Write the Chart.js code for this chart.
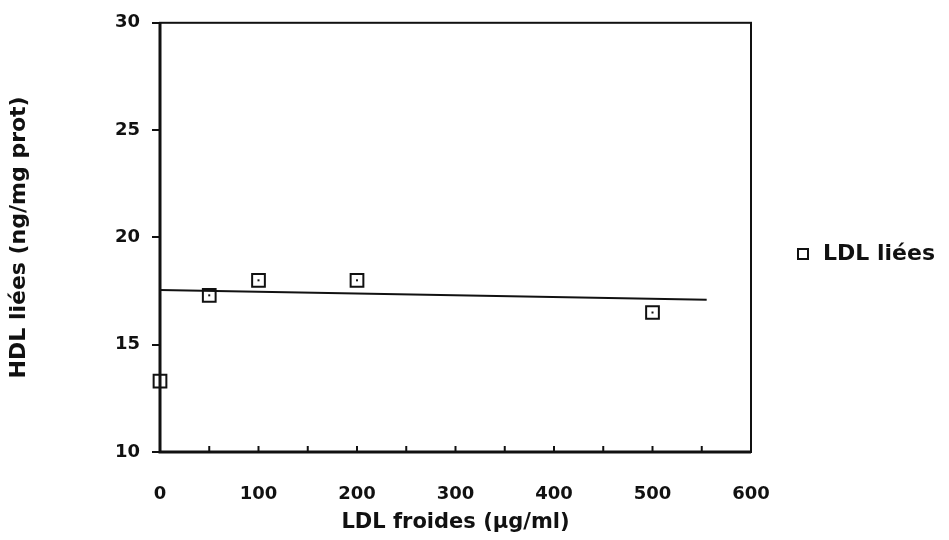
<!DOCTYPE html>
<html>
<head>
<meta charset="utf-8">
<script src="https://cdn.jsdelivr.net/npm/chart.js@4"></script>
<style>
  html, body { margin: 0; padding: 0; background: #fff; }
  #wrap { width: 949px; height: 540px; position: relative; }
</style>
</head>
<body>
<div id="wrap"><canvas id="chart" width="949" height="540"></canvas></div>
<script>
// data
const doseX = [0, 50, 100, 200, 500];
const boundY = [13.3, 17.3, 18.0, 18.0, 16.5];
const fitX = [0, 555];
const fitY = [17.55, 17.1];
const yTicks = [10, 15, 20, 25, 30];
const xTicks = [0, 100, 200, 300, 400, 500, 600];
const seriesName = 'LDL liées';

const ink = '#111';
const tickFont = { family: 'DejaVu Sans', weight: 'bold', size: 18 };

// frame, inward x ticks, dots in markers, legend
const framePlugin = {
  id: 'frame',
  afterDraw(chart) {
    const { ctx, chartArea: a, scales } = chart;
    ctx.save();
    ctx.strokeStyle = ink;
    ctx.lineWidth = 2;
    ctx.strokeRect(a.left, a.top, a.right - a.left, a.bottom - a.top);
    // left and bottom axes a bit heavier
    ctx.lineWidth = 3;
    ctx.beginPath();
    ctx.moveTo(a.left, a.top);
    ctx.lineTo(a.left, a.bottom);
    ctx.lineTo(a.right, a.bottom);
    ctx.stroke();

    // small ticks pointing up from the bottom axis every 50
    ctx.lineWidth = 2;
    for (let v = 0; v <= 600; v += 50) {
      const px = scales.x.getPixelForValue(v);
      ctx.beginPath();
      ctx.moveTo(px, a.bottom);
      ctx.lineTo(px, a.bottom - 6);
      ctx.stroke();
    }

    // centre dot in each square
    const meta = chart.getDatasetMeta(1);
    ctx.fillStyle = ink;
    meta.data.forEach(p => ctx.fillRect(p.x - 1, p.y - 1, 2, 2));

    // legend
    const lx = a.right + 52, ly = 254;
    ctx.fillStyle = '#fff';
    ctx.fillRect(lx - 5, ly - 5, 10, 10);
    ctx.strokeRect(lx - 5, ly - 5, 10, 10);
    ctx.fillStyle = ink;
    ctx.font = 'bold 22px "DejaVu Sans"';
    ctx.textBaseline = 'middle';
    ctx.textAlign = 'left';
    ctx.fillText(seriesName, lx + 20, ly);
    ctx.restore();
  }
};

new Chart(document.getElementById('chart'), {
  type: 'scatter',
  data: {
    datasets: [
      {
        type: 'line',
        label: 'fit',
        data: fitX.map((x, i) => ({ x, y: fitY[i] })),
        borderColor: ink,
        borderWidth: 2,
        pointRadius: 0,
        fill: false
      },
      {
        label: seriesName,
        data: doseX.map((x, i) => ({ x, y: boundY[i] })),
        pointStyle: 'rect',
        pointRadius: 9,
        borderColor: ink,
        borderWidth: 2,
        backgroundColor: '#fff',
        clip: false
      }
    ]
  },
  options: {
    responsive: false,
    animation: false,
    layout: { padding: { left: 0, top: 22, right: 198, bottom: 0 } },
    plugins: {
      legend: { display: false },
      tooltip: { enabled: false }
    },
    scales: {
      x: {
        type: 'linear',
        min: 0,
        max: 600,
        afterFit: s => { s.height = 88; },
        afterBuildTicks: s => { s.ticks = xTicks.map(v => ({ value: v })); },
        grid: { display: false, drawTicks: false },
        border: { display: false },
        ticks: { color: ink, font: tickFont, padding: 32, maxRotation: 0 },
        title: {
          display: true,
          text: 'LDL froides (µg/ml)',
          color: ink,
          font: { family: 'DejaVu Sans', weight: 'bold', size: 21 },
          padding: { top: 0, bottom: 5 }
        }
      },
      y: {
        min: 10,
        max: 30,
        afterFit: s => { s.width = 160; },
        afterBuildTicks: s => { s.ticks = yTicks.map(v => ({ value: v })); },
        grid: { drawOnChartArea: false, drawTicks: true, tickLength: 8, color: ink, lineWidth: 2 },
        border: { display: false },
        ticks: { color: ink, font: tickFont, padding: 12 },
        title: {
          display: true,
          text: 'HDL liées (ng/mg prot)',
          color: ink,
          font: { family: 'DejaVu Sans', weight: 'bold', size: 22 },
          padding: { top: 6, bottom: 0 }
        }
      }
    }
  },
  plugins: [framePlugin]
});
</script>
</body>
</html>
